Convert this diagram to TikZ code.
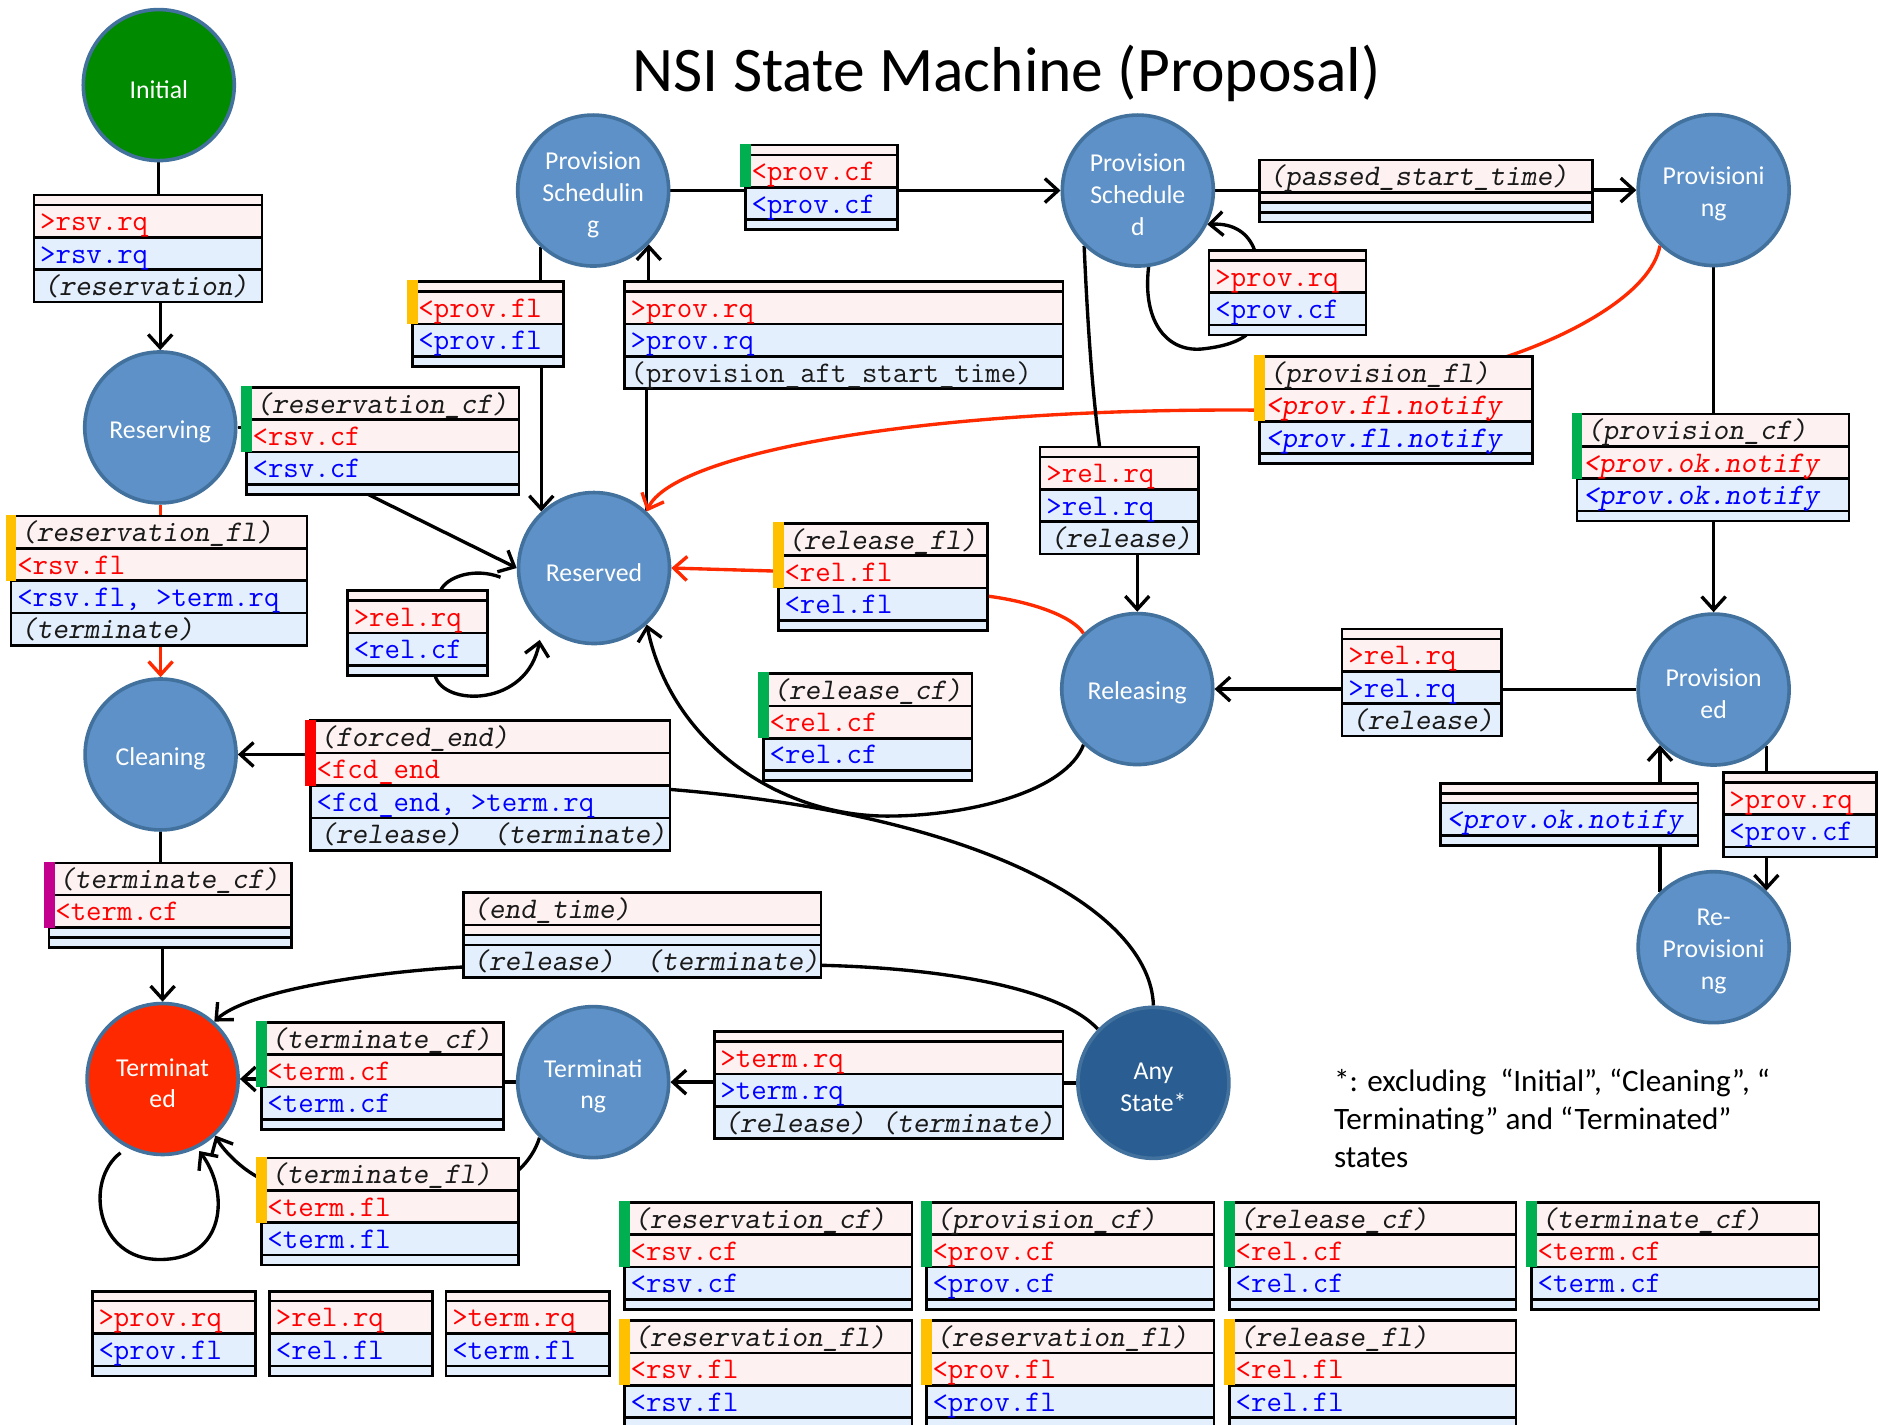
\documentclass[tikz,border=0pt]{standalone}
\usepackage{fontspec}
\usepackage{etoolbox}
\setmainfont{Carlito}
\usetikzlibrary{arrows.meta,calc}

\definecolor{stfill}{HTML}{5D91C7}
\definecolor{stedge}{HTML}{41719C}
\definecolor{anyfill}{HTML}{2A5E92}
\definecolor{initfill}{HTML}{008A00}
\definecolor{termfill}{HTML}{FF2900}
\definecolor{rowpink}{HTML}{FDF1F1}
\definecolor{rowblue}{HTML}{E3EFFC}
\definecolor{barok}{HTML}{00B050}
\definecolor{barfail}{HTML}{FFC000}
\definecolor{barforced}{HTML}{FF0000}
\definecolor{barterm}{HTML}{C4008F}
\definecolor{reqred}{HTML}{FF0000}
\definecolor{reqblue}{HTML}{0000FF}
\definecolor{evtext}{HTML}{1A1A1A}
\definecolor{flowred}{HTML}{FF2A00}

\pgfdeclarelayer{paper}
\pgfdeclarelayer{wires}
\pgfsetlayers{paper,wires,main}

\newcommand\fullrow{27}
\newcommand\thinrow{8.3}
\newcommand\evt[1]{\kern3pt\slshape#1}

% Transition table: #1 name, #2 left, #3 top, #4 width, #5 bar colour or none,
% #6 event row, #7 request row (red), #8 response row (blue), #9 action row.
% Empty rows are drawn as thin strips.
\newcommand\tbox[9]{%
  \ifblank{#6}{\def\hA{\thinrow}}{\def\hA{\fullrow}}%
  \ifblank{#7}{\def\hB{\thinrow}}{\def\hB{\fullrow}}%
  \ifblank{#8}{\def\hC{\thinrow}}{\def\hC{\fullrow}}%
  \ifblank{#9}{\def\hD{\thinrow}}{\def\hD{\fullrow}}%
  \pgfmathsetmacro\yB{#3+\hA}%
  \pgfmathsetmacro\yC{\yB+\hB}%
  \pgfmathsetmacro\yD{\yC+\hC}%
  \pgfmathsetmacro\yE{\yD+\hD}%
  \pgfmathsetmacro\xR{#2+#4}%
  \pgfmathsetmacro\bh{\yE-#3}%
  \fill[rowpink] (#2,#3) rectangle (\xR,\yC);
  \fill[rowblue] (#2,\yC) rectangle (\xR,\yE);
  \draw[boxrule] (#2,#3) rectangle (\xR,\yE)
    (#2,\yB) -- (\xR,\yB) (#2,\yC) -- (\xR,\yC) (#2,\yD) -- (\xR,\yD);
  \ifstrequal{#5}{none}{}{\fill[#5] (#2-4.5,#3-1) rectangle (#2+4.5,\yC);}%
  \node[rowtext,text=evtext] (#1-ev) at (#2,\yB) {#6};
  \node[rowtext,text=reqred] (#1-rq) at (#2,\yC) {#7};
  \node[rowtext,text=reqblue] (#1-rs) at (#2,\yD) {#8};
  \node[rowtext,text=evtext] (#1-ac) at (#2,\yE) {#9};
  \node[boxnode,minimum width=#4pt,minimum height=\bh pt] (#1) at (#2,#3) {};
}

\begin{document}
\begin{tikzpicture}[x=1pt,y=-1pt,
  stnode/.style={circle,minimum size=126pt,inner sep=0pt,draw=stedge,line width=3pt,fill=stfill},
  sttext/.style={text=white,align=center,inner sep=0pt,yshift=-3.5pt,
    font=\fontsize{21.5}{26.6}\selectfont},
  boxrule/.style={draw=black,line width=2.2pt},
  rowtext/.style={anchor=base west,inner sep=0pt,xshift=5pt,yshift=5.5pt,
    font=\ttfamily\fontsize{25}{25}\selectfont},
  boxnode/.style={anchor=north west,inner sep=0pt,outer sep=0pt,rectangle},
  flow/.style={draw=black,line width=2.8pt},
  redflow/.style={draw=flowred,line width=2.8pt},
  arr/.style={-{Straight Barb[length=11pt,width=20pt]}},
  notetext/.style={anchor=base west,inner sep=0pt,font=\fontsize{26}{31.7}\selectfont},
]
\begin{pgfonlayer}{paper}
  \fill[white] (0,0) rectangle (1568,1189);
\end{pgfonlayer}
\useasboundingbox (0,0) rectangle (1568,1189);

% ---- transition tables ----
\tbox{A}{28.3}{162.7}{190.2}{none}{}{>rsv.rq}{>rsv.rq}{\evt{(reservation)}}
\tbox{B}{205.6}{323.2}{227.4}{barok}{\evt{(reservation\_cf)}}{<rsv.cf}{<rsv.cf}{}
\tbox{C}{9.2}{430.6}{247}{barfail}{\evt{(reservation\_fl)}}{<rsv.fl}{<rsv.fl, >term.rq}{\evt{(terminate)}}
\tbox{D}{344}{235}{126}{barfail}{}{<prov.fl}{<prov.fl}{}
\tbox{E}{622}{121}{127}{barok}{}{<prov.cf}{<prov.cf}{}
\tbox{F}{521}{235}{366}{none}{}{>prov.rq}{>prov.rq}{(provision\_aft\_start\_time)}
\tbox{G}{1051}{133.5}{278}{none}{\evt{(passed\_start\_time)}}{}{}{}
\tbox{H}{1009}{209}{131}{none}{}{>prov.rq}{<prov.cf}{}
\tbox{I}{1051}{297.6}{228}{barfail}{\evt{(provision\_fl)}}{\slshape <prov.fl.notify}{\slshape <prov.fl.notify}{}
\tbox{J}{1316}{345.5}{227}{barok}{\evt{(provision\_cf)}}{\slshape <prov.ok.notify}{\slshape <prov.ok.notify}{}
\tbox{K}{868}{373}{132}{none}{}{>rel.rq}{>rel.rq}{\evt{(release)}}
\tbox{L}{649.5}{436.7}{174.5}{barfail}{\evt{(release\_fl)}}{<rel.fl}{<rel.fl}{}
\tbox{M}{290}{493}{117}{none}{}{>rel.rq}{<rel.cf}{}
\tbox{N}{637}{562}{174}{barok}{\evt{(release\_cf)}}{<rel.cf}{<rel.cf}{}
\tbox{O}{1120}{525}{133}{none}{}{>rel.rq}{>rel.rq}{\evt{(release)}}
\tbox{P}{259}{601.5}{300}{barforced}{\evt{(forced\_end)}}{<fcd\_end}{<fcd\_end, >term.rq}{\evt{(release)\ \ (terminate)}}
\tbox{Q}{41}{720}{202.5}{barterm}{\evt{(terminate\_cf)}}{<term.cf}{}{}
\tbox{R}{386.6}{745}{298.6}{none}{\evt{(end\_time)}}{}{}{\evt{(release)\ \ (terminate)}}
\tbox{S}{218}{853.2}{202}{barok}{\evt{(terminate\_cf)}}{<term.cf}{<term.cf}{}
\tbox{T}{218}{966.3}{214.6}{barfail}{\evt{(terminate\_fl)}}{<term.fl}{<term.fl}{}
\tbox{U}{596}{861}{291}{none}{}{>term.rq}{>term.rq}{\evt{(release) (terminate)}}
\tbox{V}{1438}{644.5}{128}{none}{}{>prov.rq}{<prov.cf}{}
\tbox{W}{1202}{653.6}{215}{none}{}{}{\slshape <prov.ok.notify}{}

% ---- legend tables ----
\tbox{LA}{521}{1003.3}{240}{barok}{\evt{(reservation\_cf)}}{<rsv.cf}{<rsv.cf}{}
\tbox{LB}{773}{1003.3}{240}{barok}{\evt{(provision\_cf)}}{<prov.cf}{<prov.cf}{}
\tbox{LC}{1026}{1003.3}{239}{barok}{\evt{(release\_cf)}}{<rel.cf}{<rel.cf}{}
\tbox{LD}{1278}{1003.3}{240}{barok}{\evt{(terminate\_cf)}}{<term.cf}{<term.cf}{}
\tbox{LE}{521}{1102}{240}{barfail}{\evt{(reservation\_fl)}}{<rsv.fl}{<rsv.fl}{}
\tbox{LF}{773}{1102}{240}{barfail}{\evt{(reservation\_fl)}}{<prov.fl}{<prov.fl}{}
\tbox{LG}{1026}{1102}{239}{barfail}{\evt{(release\_fl)}}{<rel.fl}{<rel.fl}{}
\tbox{SA}{77}{1077.5}{136}{none}{}{>prov.rq}{<prov.fl}{}
\tbox{SB}{225}{1077.5}{136}{none}{}{>rel.rq}{<rel.fl}{}
\tbox{SC}{372.3}{1077.5}{136.3}{none}{}{>term.rq}{<term.fl}{}

% ---- states ----
\node[stnode,fill=initfill,label={[sttext,name=init-t]center:Initial}] (init) at (132.5,71) {};
\node[stnode,label={[sttext,name=rsvg-t]center:Reserving}] (rsvg) at (133.7,356.7) {};
\node[stnode,label={[sttext,name=psch-t]center:{Provision\\Schedulin\\g}}] (psch) at (495,159) {};
\node[stnode,label={[sttext,name=psd-t]center:{Provision\\Schedule\\d}}] (psd) at (949.5,159) {};
\node[stnode,label={[sttext,name=prov-t]center:{Provisioni\\ng}}] (prov) at (1430,158.6) {};
\node[stnode,label={[sttext,name=rsvd-t]center:Reserved}] (rsvd) at (495.7,474) {};
\node[stnode,label={[sttext,name=rel-t]center:Releasing}] (rel) at (949,575) {};
\node[stnode,label={[sttext,name=prvd-t]center:{Provision\\ed}}] (prvd) at (1430,575.4) {};
\node[stnode,label={[sttext,name=reprov-t]center:{Re-\\Provisioni\\ng}}] (reprov) at (1430,790.4) {};
\node[stnode,label={[sttext,name=clean-t]center:Cleaning}] (clean) at (134,629.6) {};
\node[stnode,fill=termfill,label={[sttext,name=termd-t]center:{Terminat\\ed}}] (termd) at (135.7,900.4) {};
\node[stnode,label={[sttext,name=termg-t]center:{Terminati\\ng}}] (termg) at (495,903) {};
\node[stnode,fill=anyfill,label={[sttext,name=any-t]center:{Any\\State*}}] (any) at (962.5,903.6) {};

% ---- captions ----
\node[anchor=base,inner sep=0pt,font=\fontsize{53}{60}\selectfont] (title) at (840,76) {NSI State Machine (Proposal)};
\node[notetext] (note1) at (1113,911) {*: excluding\ \ “Initial”, “Cleaning”, “};
\node[notetext] (note2) at (1113,942.5) {Terminating” and “Terminated”};
\node[notetext] (note3) at (1113,974) {states};

% ---- transitions ----
\begin{pgfonlayer}{wires}
  % Initial -> Reserving
  \draw[flow] (init.south) -- (init.south |- A.north);
  \draw[flow,arr] (rsvg.north |- A.south) -- (rsvg.north);
  % Reserving -> Reserved
  \draw[flow] (rsvg.east) -- (rsvg.east -| B.west);
  \draw[flow,arr] ($(B.south west)!0.446!(B.south east)$) -- (rsvd.west);
  % Reserving -> Cleaning (failure)
  \draw[redflow] (rsvg.south) -- (rsvg.south |- C.north);
  \draw[redflow,arr] (clean.north |- C.south) -- (clean.north);
  % Provision Scheduling -> Reserved
  \draw[flow] (psch.-133) -- (psch.-133 |- D.north);
  \draw[flow,arr] (rsvd.133 |- D.south) -- (rsvd.133);
  % Reserved -> Provision Scheduling
  \draw[flow] (rsvd.47) -- (rsvd.47 |- F.south);
  \draw[flow,arr] (psch.-44 |- F.north) -- (psch.-44);
  % Provision Scheduling -> Provision Scheduled
  \draw[flow] (psch.east) -- (psch.east -| E.west);
  \draw[flow,arr] (E.east |- psd.west) -- (psd.west);
  % Provision Scheduled -> Provisioning
  \draw[flow] (psd.east) -- (psd.east -| G.west);
  \draw[flow,arr] (G.east |- prov.west) -- (prov.west);
  % Provision Scheduled self loop
  \draw[flow] (psd.-82) .. controls (953,270) and (975,295) .. (1005,291)
    .. controls (1022,289) and (1033,285) .. ($(H.south west)!0.237!(H.south east)$);
  \draw[flow,arr] ($(H.north west)!0.29!(H.north east)$) .. controls (1042,195) and (1030,186) .. (psd.-26);
  % Provisioning -> Reserved (failure)
  \draw[redflow] (prov.-134) .. controls (1378,245) and (1310,280) .. ($(I.north west)!0.905!(I.north east)$);
  \draw[redflow,arr] (I.west) .. controls (760,340) and (560,380) .. (rsvd.47);
  % Provisioning -> Provisioned
  \draw[flow] (prov.south) -- (prov.south |- J.north);
  \draw[flow,arr] (prvd.north |- J.south) -- (prvd.north);
  % Provision Scheduled -> Releasing
  \draw[flow] (psd.-134) .. controls (908,280) and (912,330) .. ($(K.north west)!0.376!(K.north east)$);
  \draw[flow,arr] (rel.north |- K.south) -- (rel.north);
  % Releasing -> Reserved (failure)
  \draw[redflow] ($(L.north east)!0.68!(L.south east)$) .. controls (860,502) and (895,514) .. (rel.134);
  \draw[redflow,arr] ($(L.north west)!0.447!(L.south west)$) -- (rsvd.east);
  % Reserved self loop
  \draw[flow] ($(M.north west)!0.663!(M.north east)$) .. controls (372,482) and (395,473) .. ($(rsvd.west)+(-13.5,7.7)$);
  \draw[flow,arr] ($(M.south west)!0.624!(M.south east)$) .. controls (370,590) and (440,590) .. ($(rsvd.center)+(-45.3,60)$);
  % Releasing -> Reserved
  \draw[flow,arr] (rel.-134) .. controls (890,660) and (810,681) .. (740,681)
    .. controls (650,681) and (560,620) .. (rsvd.-47);
  % Provisioned -> Releasing
  \draw[flow] (prvd.west) -- (prvd.west -| O.east);
  \draw[flow,arr] (O.west |- rel.east) -- (rel.east);
  % Provisioned -> Re-Provisioning
  \draw[flow] (prvd.-47) -- (prvd.-47 |- V.north);
  \draw[flow,arr] (reprov.47 |- V.south) -- (reprov.47);
  % Re-Provisioning -> Provisioned
  \draw[flow] (reprov.134) -- (reprov.134 |- W.south);
  \draw[flow,arr] (prvd.-134 |- W.north) -- (prvd.-134);
  % Any State -> Cleaning
  \draw[flow] (any.north) .. controls (960,760) and (820,680) .. ($(P.north east)!0.53!(P.south east)$);
  \draw[flow,arr] (P.west |- clean.east) -- (clean.east);
  % Any State -> Terminated
  \draw[flow] (any.136) .. controls (885,825) and (790,808) .. ($(R.north east)!0.857!(R.south east)$);
  \draw[flow,arr] ($(R.north west)!0.877!(R.south west)$) .. controls (300,812) and (205,828) .. (termd.48);
  % Any State -> Terminating
  \draw[flow] (any.west) -- (any.west -| U.east);
  \draw[flow,arr] (U.west |- termg.east) -- (termg.east);
  % Terminating -> Terminated
  \draw[flow] (termg.west) -- (termg.west -| S.east);
  \draw[flow,arr] (S.west |- termd.east) -- (termd.east);
  \draw[flow] (termg.-134) .. controls (447,960) and (440,970) .. ($(T.north east)!0.114!(T.south east)$);
  \draw[flow,arr] ($(T.north west)!0.195!(T.south west)$) .. controls (200,975) and (185,958) .. (termd.-47);
  % Terminated self loop
  \draw[flow,arr] ($(termd.center)+(-35.1,61.6)$) .. controls (70,985) and (80,1052) .. (134,1051)
    .. controls (188,1051) and (192,995) .. ($(termd.center)+(30.6,60.1)$);
  % Cleaning -> Terminated
  \draw[flow] (clean.south) -- (clean.south |- Q.north);
  \draw[flow,arr] (termd.north |- Q.south) -- (termd.north);
\end{pgfonlayer}
\end{tikzpicture}
\end{document}
